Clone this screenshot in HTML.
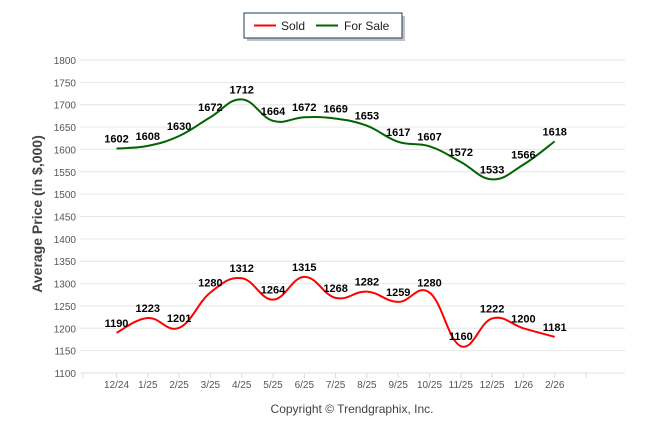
<!DOCTYPE html>
<html><head><meta charset="utf-8"><style>
body{margin:0;background:#fff;}
svg{display:block;font-family:"Liberation Sans",Arial,sans-serif;}
</style></head><body>
<svg id="chart" width="646" height="434">
<g>
<rect x="247" y="16" width="158" height="25" fill="#999" opacity="0.6"/>
<rect x="244" y="13" width="158" height="25" fill="#fff" stroke="#1f3864" stroke-width="1"/>
<line x1="254" y1="25.5" x2="276" y2="25.5" stroke="#ff0000" stroke-width="2"/>
<text x="281" y="30" font-size="12" fill="#222">Sold</text>
<line x1="316" y1="25.5" x2="338" y2="25.5" stroke="#006400" stroke-width="2"/>
<text x="344" y="30" font-size="12" fill="#222">For Sale</text>
</g>
<text transform="translate(42,214) rotate(-90)" text-anchor="middle" font-size="14" font-weight="bold" fill="#444">Average Price (in $,000)</text>
<text x="352" y="413" text-anchor="middle" font-size="12" fill="#444">Copyright © Trendgraphix, Inc.</text>
<g id="grid"></g><g id="series"></g><g id="labels"></g>
</svg>
<script>
const categories=["12/24","1/25","2/25","3/25","4/25","5/25","6/25","7/25","8/25","9/25","10/25","11/25","12/25","1/26","2/26"];
const soldValues=[1190,1223,1201,1280,1312,1264,1315,1268,1282,1259,1280,1160,1222,1200,1181];
const forSaleValues=[1602,1608,1630,1672,1712,1664,1672,1669,1653,1617,1607,1572,1533,1566,1618];
const yTicks=[1100,1150,1200,1250,1300,1350,1400,1450,1500,1550,1600,1650,1700,1750,1800];
const NS="http://www.w3.org/2000/svg";
const yMin=1100,yMax=1800,yTop=60,yBot=373;
const y=v=>yBot-(v-yMin)/(yMax-yMin)*(yBot-yTop);
const x0=116.5,dx=31.3;
const x=i=>x0+i*dx;
function mk(tag,attrs,parent){const e=document.createElementNS(NS,tag);for(const k in attrs)e.setAttribute(k,attrs[k]);parent.appendChild(e);return e;}
const grid=document.getElementById('grid');
yTicks.forEach(t=>{
  const l=mk('line',{x1:80,x2:625,y1:y(t),y2:y(t),stroke:'#e6e6e6','stroke-width':1},grid);
  
  
  const tx=mk('text',{x:76,y:y(t)+4,'text-anchor':'end','font-size':'10',fill:'#555'},grid);
  tx.textContent=t;
  
  
});
mk('line',{x1:83,x2:586,y1:yBot,y2:yBot,stroke:'#ddd'},grid);
mk('line',{x1:83,x2:83,y1:yBot,y2:yBot+5,stroke:'#ddd'},grid);
categories.forEach((c,i)=>{
  mk('line',{x1:x(i),x2:x(i),y1:yBot,y2:yBot+5,stroke:'#ddd'},grid);
  const tx=mk('text',{x:x(i),y:yBot+15,'text-anchor':'middle','font-size':'10',fill:'#555'},grid);
  tx.textContent=c;
  
  
});
mk('line',{x1:586,x2:586,y1:yBot,y2:yBot+5,stroke:'#ddd'},grid);
function smooth(vals){
  const p=vals.map((v,i)=>[x(i),y(v)]);
  let d=`M${p[0][0]},${p[0][1]}`;
  for(let i=0;i<p.length-1;i++){
    const a=p[i-1]||p[i],b=p[i],c=p[i+1],e=p[i+2]||c;
    const t=0.2;
    d+=` C${b[0]+(c[0]-a[0])*t},${b[1]+(c[1]-a[1])*t} ${c[0]-(e[0]-b[0])*t},${c[1]-(e[1]-b[1])*t} ${c[0]},${c[1]}`;
  }
  return d;
}
const series=document.getElementById('series'),labels=document.getElementById('labels');
[[forSaleValues,'#006400','for-sale'],[soldValues,'#ff0000','sold']].forEach(([vals,col,nm])=>{
  const p=mk('path',{d:smooth(vals),fill:'none',stroke:col,'stroke-width':2},series);
  
  
  vals.forEach((v,i)=>{
    const tx=mk('text',{x:x(i),y:y(v)-6,'text-anchor':'middle','font-size':'11','font-weight':'bold',fill:'#000'},labels);
    tx.textContent=v;
    
    
  });
});
</script>
</body></html>
